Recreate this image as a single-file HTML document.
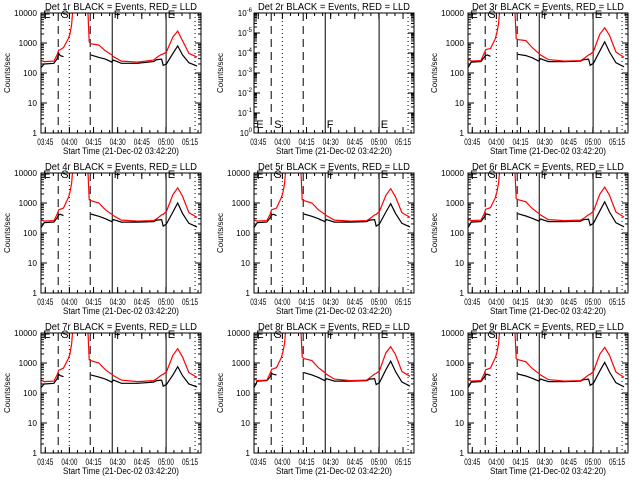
<!DOCTYPE html>
<html><head><meta charset="utf-8"><style>
html,body{margin:0;padding:0;background:#fff;}
svg{display:block;font-family:"Liberation Sans",sans-serif;}
</style></head><body>
<svg id="chart" width="640" height="480" viewBox="0 0 640 480" xmlns="http://www.w3.org/2000/svg">
<rect x="0" y="0" width="640" height="480" fill="#fff"/>
</svg>
<script>
// minutes after 03:42:20
const times = [0,2,8,10,11,12,14,17,18,19,20,25,29,30,31,36,40,44,45,50,60,70,72,75,76,78,82,85,88,92,97];
const xTickLabels = ["03:45","04:00","04:15","04:30","04:45","05:00","05:15"];
const xTickMinutes = [2.67,17.67,32.67,47.67,62.67,77.67,92.67];
const yTickLabels = ["1","10","100","1000","10000"];
const yTickValues = [1,10,100,1000,10000];
const detNames = ["1r","2r","3r","4r","5r","6r","7r","8r","9r"];
const dashedLines = [10.7,30.6];
const dottedLines = [17.6,95.8];
const solidLines = [44.3,77.8];
const N = null;
const red1 = [260,240,250,400,580,600,700,1400,2000,4000,20000,50000,20000,1100,950,850,550,400,350,250,230,270,330,420,430,500,1600,2500,1200,450,340];
const blk1 = [150,200,210,300,450,380,350,N,N,N,N,N,N,N,400,330,290,230,270,210,210,240,280,290,180,200,450,800,400,220,170];
const red3 = [300,250,260,450,600,620,650,1400,2200,4500,20000,50000,20000,1400,1300,1200,700,450,400,280,250,260,300,400,420,520,2000,3200,1800,500,330];
const blk3 = [150,230,240,330,380,400,360,N,N,N,N,N,N,N,420,380,320,250,300,240,240,250,280,290,180,210,550,1100,500,220,160];
const red4 = [280,250,260,420,600,620,680,1500,2200,4500,20000,50000,20000,1300,1200,1000,600,420,380,270,250,260,300,400,420,520,1900,3200,1700,480,330];
const blk4 = [150,220,230,320,400,420,380,N,N,N,N,N,N,N,430,360,300,240,280,230,230,240,270,280,170,200,500,1000,450,210,160];
const red5 = [270,250,260,420,600,620,680,1500,2200,4500,20000,50000,20000,1300,1200,1000,600,420,380,270,250,260,300,400,420,520,1800,3000,1600,480,330];
const blk5 = [150,220,230,320,400,420,380,N,N,N,N,N,N,N,430,360,300,240,280,230,230,240,270,280,170,200,500,950,450,210,160];
const red6 = [290,260,270,430,620,640,700,1500,2300,4600,20000,50000,20000,1400,1300,1100,650,450,400,280,260,270,310,410,430,530,2000,3400,1800,500,340];
const blk6 = [150,230,240,330,420,430,390,N,N,N,N,N,N,N,440,370,310,250,290,240,240,250,280,290,180,210,550,1100,500,220,160];
const red7 = [270,240,250,400,580,600,680,1400,2000,4200,20000,50000,20000,1300,1200,1000,600,420,380,270,240,260,300,400,420,500,1800,3000,1600,480,330];
const blk7 = [150,200,210,300,420,380,350,N,N,N,N,N,N,N,400,340,290,230,270,210,210,230,260,270,170,190,400,750,380,200,160];
const red8 = [300,260,270,450,620,640,700,1500,2300,4600,20000,50000,20000,1600,1400,1200,700,480,420,290,260,270,320,430,450,540,2200,3500,1900,520,360];
const blk8 = [150,250,260,340,450,420,400,N,N,N,N,N,N,N,480,400,330,260,300,250,250,260,290,300,190,220,600,1150,520,230,170];
const red9 = [290,250,260,430,600,620,680,1500,2200,4500,20000,50000,20000,1400,1300,1100,650,450,400,280,250,260,300,400,420,520,2000,3300,1800,500,330];
const blk9 = [150,230,240,330,400,420,380,N,N,N,N,N,N,N,430,370,310,250,290,240,240,250,280,290,180,210,550,1050,500,220,160];
const redSeries = [red1,null,red3,red4,red5,red6,red7,red8,red9];
const blkSeries = [blk1,null,blk3,blk4,blk5,blk6,blk7,blk8,blk9];

const svg = document.getElementById('chart');
const NS = 'http://www.w3.org/2000/svg';
function mk(tag, attrs, parent){const e=document.createElementNS(NS,tag);for(const k in attrs)e.setAttribute(k,attrs[k]);parent.appendChild(e);return e;}
const PW=160, PH=120, TMAX=99.5;

for(let p=0;p<9;p++){
  const c=p%3, r=Math.floor(p/3);
  const ox=Math.round(c*213.33), oy=r*160;
  const L=ox+41, T=oy+13, R=L+PW, B=T+PH;
  const g=mk('g',{},svg);
  
  
  const xs=t=>L+t/TMAX*PW;
  const isEmpty = p===1;
  const ys = isEmpty ? (v=>B-(v)/6*PH) : (v=>B-Math.log10(v)/4*PH);
  const cid='clip'+p;
  const cp=mk('clipPath',{id:cid},g); mk('rect',{x:L,y:T,width:PW,height:PH},cp);
  // phase letters (drawn first, partly under title like reference)
  const letters=[['E',0.8],['S',12],['F',44.6],['E',78.2]];
  letters.forEach(([s,t])=>{
    const lt=mk('text',{x:xs(t)+1,y:isEmpty?B-5:T+5,'font-size':'11'},g);
    lt.textContent=s;
    
    
  });
  // title
  const ti=mk('text',{x:(L+R)/2,y:oy+10,'text-anchor':'middle','font-size':'10',textLength:'152',lengthAdjust:'spacingAndGlyphs'},g);
  ti.textContent='Det '+detNames[p]+' BLACK = Events, RED = LLD';
  
  
  // y label
  const yl=mk('text',{x:0,y:0,'text-anchor':'middle','font-size':'8',textLength:'40',lengthAdjust:'spacingAndGlyphs',transform:'translate('+(ox+10)+','+((T+B)/2)+') rotate(-90)'},g);
  yl.textContent='Counts/sec';
  
  
  // x label
  const xl=mk('text',{x:(L+R)/2,y:oy+154,'text-anchor':'middle','font-size':'9',textLength:'116',lengthAdjust:'spacingAndGlyphs'},g);
  xl.textContent='Start Time (21-Dec-02 03:42:20)';
  
  
  // x ticks
  for(let i=0;i<xTickMinutes.length;i++){
    const x=xs(xTickMinutes[i]);
    mk('line',{x1:x,x2:x,y1:B,y2:B-6,stroke:'#000'},g);
    mk('line',{x1:x,x2:x,y1:T,y2:T+6,stroke:'#000'},g);
    const tl=mk('text',{x:x,y:oy+145,'text-anchor':'middle','font-size':'9',textLength:'16',lengthAdjust:'spacingAndGlyphs'},g);
    tl.textContent=xTickLabels[i];
    
    
  }
  for(let m=2.67;m<TMAX;m+=5){const x=xs(m);mk('line',{x1:x,x2:x,y1:B,y2:B-3,stroke:'#000'},g);mk('line',{x1:x,x2:x,y1:T,y2:T+3,stroke:'#000'},g);}
  // y ticks
  if(isEmpty){
    for(let k=0;k<=6;k++){
      const y=ys(k);
      mk('line',{x1:L,x2:L+6,y1:y,y2:y,stroke:'#000'},g);
      mk('line',{x1:R,x2:R-6,y1:y,y2:y,stroke:'#000'},g);
      for(let j=2;j<10;j++){const yy=y-Math.log10(j)*20; if(k<6){mk('line',{x1:L,x2:L+3,y1:yy,y2:yy,stroke:'#000'},g);mk('line',{x1:R,x2:R-3,y1:yy,y2:yy,stroke:'#000'},g);}}
      const tl=mk('text',{x:L-2,y:y+3,'text-anchor':'end','font-size':'8'},g);
      
      
      tl.innerHTML='10<tspan dy="-4" font-size="6">'+(k===0?'0':'-'+k)+'</tspan>';
    }
  } else {
    for(let i=0;i<yTickValues.length;i++){
      const y=ys(yTickValues[i]);
      mk('line',{x1:L,x2:L+6,y1:y,y2:y,stroke:'#000'},g);
      mk('line',{x1:R,x2:R-6,y1:y,y2:y,stroke:'#000'},g);
      if(i<yTickValues.length-1){for(let j=2;j<10;j++){const yy=ys(yTickValues[i]*j);mk('line',{x1:L,x2:L+3,y1:yy,y2:yy,stroke:'#000'},g);mk('line',{x1:R,x2:R-3,y1:yy,y2:yy,stroke:'#000'},g);}}
      const tl=mk('text',{x:L-4,y:y+3,'text-anchor':'end','font-size':'8',textLength:String(yTickLabels[i].length*4.6),lengthAdjust:'spacingAndGlyphs'},g);
      tl.textContent=yTickLabels[i];
      
      
    }
  }
  // vertical markers
  const vg=mk('g',{'clip-path':'url(#'+cid+')'},g);
  dashedLines.forEach(t=>mk('line',{x1:xs(t),x2:xs(t),y1:T,y2:B,stroke:'#000','stroke-dasharray':'8,5'},vg));
  dottedLines.forEach(t=>mk('line',{x1:xs(t),x2:xs(t),y1:T,y2:B,stroke:'#000','stroke-dasharray':'1,3'},vg));
  solidLines.forEach(t=>mk('line',{x1:xs(t),x2:xs(t),y1:T,y2:B,stroke:'#000'},vg));
  // series
  if(!isEmpty){
    const draw=(arr,color,name)=>{
      let d='',pen=false;
      for(let i=0;i<times.length;i++){
        if(arr[i]===null){pen=false;continue;}
        d+=(pen?'L':'M')+xs(times[i]).toFixed(1)+','+ys(arr[i]).toFixed(1);pen=true;
      }
      const pth=mk('path',{d:d,fill:'none',stroke:color,'stroke-width':'1.2','clip-path':'url(#'+cid+')'},g);
      
      
    };
    draw(blkSeries[p],'#000','events-line');
    draw(redSeries[p],'#ff0000','lld-line');
  }
  const frame=mk('rect',{x:L,y:T,width:PW,height:PH,fill:'none',stroke:'#000'},g);
  
  
}
</script>
</body></html>
